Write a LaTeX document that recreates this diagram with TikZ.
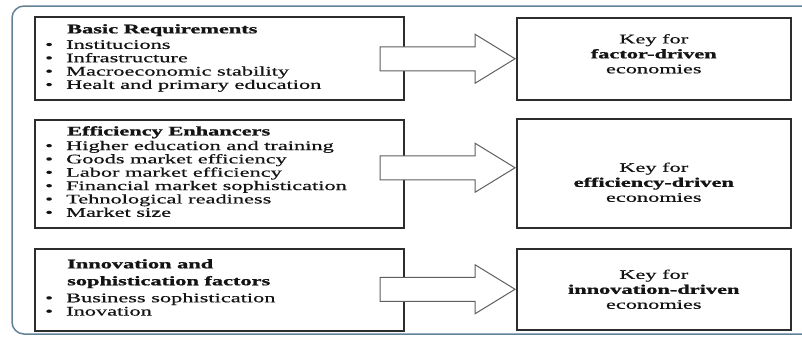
\documentclass[tikz,border=0pt]{standalone}
\usepackage{graphicx}
\usepackage{fontspec}
\setmainfont{Liberation Serif}[FakeStretch=1.7, FakeBold=0.5]
\newfontfamily\plainbold{Liberation Serif Bold}[FakeBold=1]
\usetikzlibrary{shapes.arrows}

\definecolor{framecol}{RGB}{100,130,150}
\definecolor{boxcol}{RGB}{45,45,45}
\definecolor{arrowcol}{RGB}{95,95,95}
\definecolor{inkcol}{RGB}{20,20,20}

% wide bold lettering for the headings
\newcommand{\wb}[1]{\scalebox{1.7}[1]{\plainbold #1}}
\newcommand{\bitem}{\makebox[21bp][l]{\textbullet}}
\newcommand{\hind}{\hspace*{22bp}}

\begin{document}
\begin{tikzpicture}[x=1bp,y=-1bp,
  outerframe/.style={draw=framecol, line width=1.5bp, rounded corners=12bp},
  pillarbox/.style={draw=boxcol, line width=1.5bp, fill=white, inner sep=0pt, anchor=north west},
  keybox/.style={draw=boxcol, line width=1.5bp, fill=white, inner sep=0pt, anchor=north west,
                 minimum width=274bp},
  blockarrow/.style={single arrow, draw=arrowcol, fill=white, line width=1bp,
                     text height=23bp, text depth=0pt, inner sep=0pt,
                     single arrow head extend=12.5bp, single arrow tip angle=63,
                     minimum height=135bp, anchor=tip},
  listtext/.style={anchor=north west, inner sep=0pt, align=left, text=inkcol,
                   font=\fontsize{13.2}{13.4}\selectfont},
  keytext/.style={align=center, inner sep=0pt, text=inkcol,
                  font=\fontsize{13.2}{15}\selectfont}]

% page area
\fill[white] (0,0) rectangle (802,336);
\useasboundingbox (0,0) rectangle (802,336);

% rounded outer frame, running past the right edge
\draw[outerframe] (12,6) rectangle (816,334);

% left column: the three groups of pillars
\node[pillarbox, minimum width=369bp, minimum height=83bp]  (b1) at (34,16)  {};
\node[pillarbox, minimum width=369bp, minimum height=108bp] (b2) at (34,119) {};
\node[pillarbox, minimum width=369bp, minimum height=82bp]  (b3) at (34,248) {};

\node[listtext] (t1) at (45,24) {%
  \hind\wb{Basic Requirements}\\[2.2bp]
  \bitem Institucions\\
  \bitem Infrastructure\\
  \bitem Macroeconomic stability\\
  \bitem Healt and primary education};

\node[listtext] (t2) at (45,126) {%
  \hind\wb{Efficiency Enhancers}\\[1.2bp]
  \bitem Higher education and training\\
  \bitem Goods market efficiency\\
  \bitem Labor market efficiency\\
  \bitem Financial market sophistication\\
  \bitem Tehnological readiness\\
  \bitem Market size};

\node[listtext] (t3) at (45,259) {%
  \hind\wb{Innovation and}\\[3.6bp]
  \hind\wb{sophistication factors}\\[3.6bp]
  \bitem Business sophistication\\
  \bitem Inovation};

% right column: the economy stages
\node[keybox, minimum height=82bp]  (r1) at (516,17)  {};
\node[keybox, minimum height=109bp] (r2) at (516,118) {};
\node[keybox, minimum height=81bp]  (r3) at (516,248) {};

\node[keytext, yshift=5bp]  (k1) at (r1.center) {Key for\\ \wb{factor-driven}\\ economies};
\node[keytext, yshift=-9bp] (k2) at (r2.center) {Key for\\ \wb{efficiency-driven}\\ economies};
\node[keytext]              (k3) at (r3.center) {Key for\\ \wb{innovation-driven}\\ economies};

% block arrows from each group to its stage
\node[blockarrow]               (a1) at (r1.west) {};
\node[blockarrow, yshift=5.5bp] (a2) at (r2.west) {};
\node[blockarrow]               (a3) at (r3.west) {};

\end{tikzpicture}
\end{document}
